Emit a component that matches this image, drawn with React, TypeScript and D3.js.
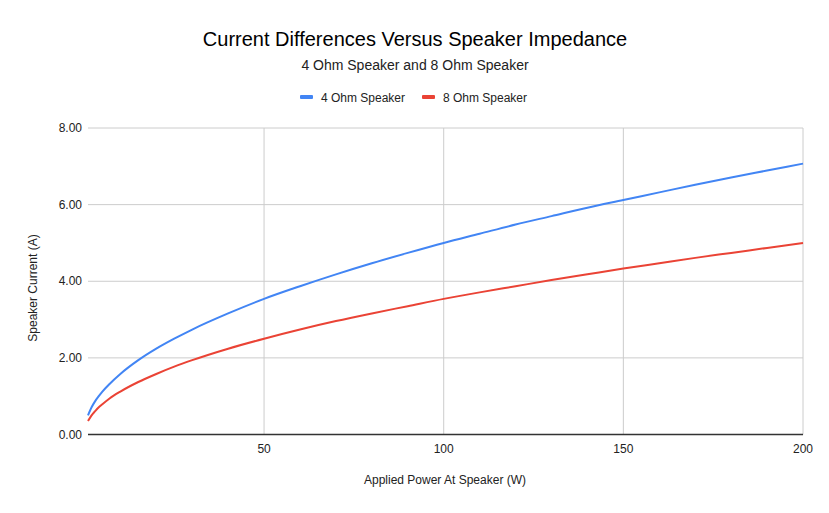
import React from "react";
import * as d3 from "d3";

// Applied power (W) and resulting speaker current (A)
const power = [1, 2, 3, 4, 5, 7, 10, 15, 20, 25, 30, 40, 50, 60, 70, 80, 90, 100, 110, 120, 130, 140, 150, 160, 170, 180, 190, 200];
const current4 = [0.5, 0.71, 0.87, 1.0, 1.12, 1.32, 1.58, 1.94, 2.24, 2.5, 2.74, 3.16, 3.54, 3.87, 4.18, 4.47, 4.74, 5.0, 5.24, 5.48, 5.7, 5.92, 6.12, 6.32, 6.52, 6.71, 6.89, 7.07];
const current8 = [0.35, 0.5, 0.61, 0.71, 0.79, 0.94, 1.12, 1.37, 1.58, 1.77, 1.94, 2.24, 2.5, 2.74, 2.96, 3.16, 3.35, 3.54, 3.71, 3.87, 4.03, 4.18, 4.33, 4.47, 4.61, 4.74, 4.87, 5.0];
const xTicks = [50, 100, 150, 200];
const yTicks = [0, 2, 4, 6, 8];
const seriesNames = ["4 Ohm Speaker", "8 Ohm Speaker"];
const seriesColors = ["#4285f4", "#ea4335"];

const width = 829;
const height = 513;
const marginLeft = 88;
const marginRight = 26;
const marginTop = 128;
const marginBottom = 78.5;
const font = "'Liberation Sans', Arial, sans-serif";

export default function App() {
  const x = d3.scaleLinear().domain([1, 200]).range([marginLeft, width - marginRight]);
  const y = d3.scaleLinear().domain([0, 8]).range([height - marginBottom, marginTop]);

  const line = d3
    .line<number>()
    .x((_, i) => x(power[i]))
    .y((d) => y(d))
    .curve(d3.curveMonotoneX);

  const series = [current4, current8];

  return (
    <svg
      width={width}
      height={height}
      style={{ position: "absolute", left: 0, top: 0, background: "#fff" }}
      fontFamily={font}
    >
      {/* titles */}
      <text x={415} y={46} textAnchor="middle" fontSize={20} fill="#000">
        Current Differences Versus Speaker Impedance
      </text>
      <text x={415} y={70} textAnchor="middle" fontSize={14} fill="#222">
        4 Ohm Speaker and 8 Ohm Speaker
      </text>

      {/* legend */}
      {seriesNames.map((name, i) => {
        const lx = 300 + i * 122;
        return (
          <g key={name}>
            <rect x={lx} y={95} width={13} height={4} rx={1} fill={seriesColors[i]} />
            <text x={lx + 21} y={101.5} fontSize={12} fill="#222">
              {name}
            </text>
          </g>
        );
      })}

      {/* gridlines */}
      {yTicks.filter((t) => t > 0).map((t) => (
        <line key={"gy" + t} x1={marginLeft} x2={width - marginRight} y1={y(t)} y2={y(t)} stroke="#cccccc" />
      ))}
      {xTicks.map((t) => (
        <line key={"gx" + t} x1={x(t)} x2={x(t)} y1={marginTop} y2={y(0)} stroke="#cccccc" />
      ))}

      {/* lines */}
      {series.map((s, i) => (
        <path key={i} d={line(s) || ""} fill="none" stroke={seriesColors[i]} strokeWidth={2} />
      ))}

      {/* x axis baseline */}
      <line x1={marginLeft} x2={width - marginRight} y1={y(0)} y2={y(0)} stroke="#333" strokeWidth={1.5} />

      {/* tick labels */}
      {yTicks.map((t) => (
        <text key={"ty" + t} x={82} y={y(t) + 4} textAnchor="end" fontSize={12} fill="#222">
          {t.toFixed(2)}
        </text>
      ))}
      {xTicks.map((t) => (
        <text key={"tx" + t} x={x(t)} y={453} textAnchor="middle" fontSize={12} fill="#222">
          {t}
        </text>
      ))}

      {/* axis titles */}
      <text x={445} y={484} textAnchor="middle" fontSize={12} fill="#222">
        Applied Power At Speaker (W)
      </text>
      <text
        transform={`translate(37, 288) rotate(-90)`}
        textAnchor="middle"
        fontSize={12}
        fill="#222"
      >
        Speaker Current (A)
      </text>
    </svg>
  );
}
